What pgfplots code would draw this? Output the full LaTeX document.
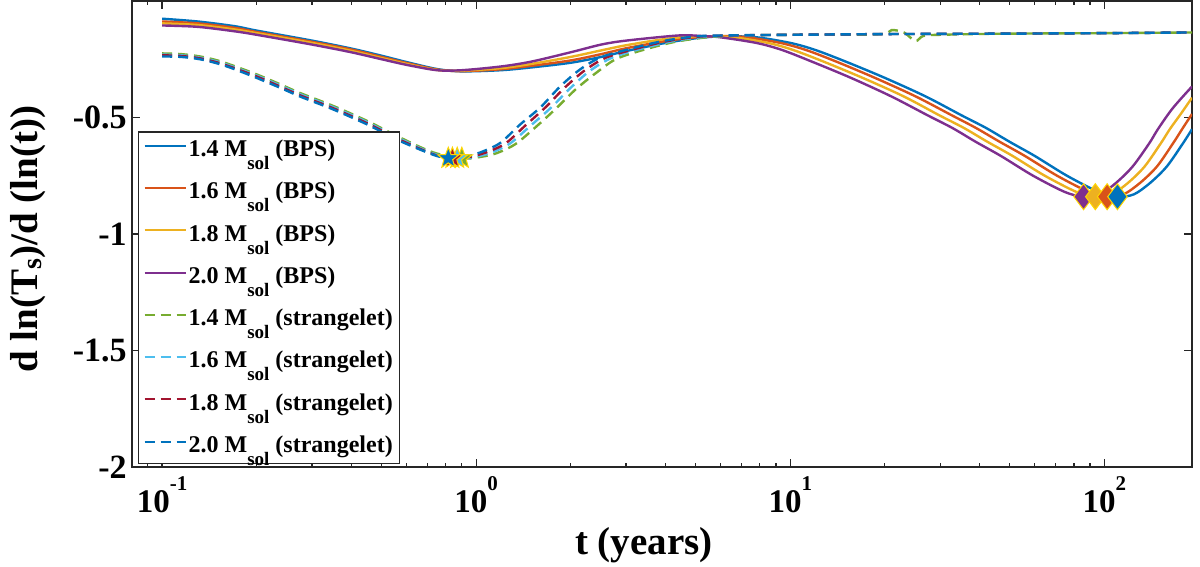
\documentclass[border=0pt]{standalone}
\usepackage{fontspec}
\setmainfont{Liberation Serif}
\usepackage{pgfplots}
\pgfplotsset{compat=1.18}

\definecolor{c1}{rgb}{0,0.447,0.741}
\definecolor{c2}{rgb}{0.850,0.325,0.098}
\definecolor{c3}{rgb}{0.929,0.694,0.125}
\definecolor{c4}{rgb}{0.494,0.184,0.556}
\definecolor{c5}{rgb}{0.466,0.674,0.188}
\definecolor{c6}{rgb}{0.301,0.745,0.933}
\definecolor{c7}{rgb}{0.635,0.078,0.184}
\definecolor{c8}{rgb}{0,0.447,0.741}
\definecolor{edgeyel}{rgb}{1,0.84,0}
\definecolor{frame}{rgb}{0.15,0.15,0.15}

% filled five-pointed star
\pgfdeclareplotmark{fstar}{%
  \pgfpathmoveto{\pgfpointpolar{90}{\pgfplotmarksize}}%
  \pgfpathlineto{\pgfpointpolar{126}{0.42\pgfplotmarksize}}%
  \pgfpathlineto{\pgfpointpolar{162}{\pgfplotmarksize}}%
  \pgfpathlineto{\pgfpointpolar{198}{0.42\pgfplotmarksize}}%
  \pgfpathlineto{\pgfpointpolar{234}{\pgfplotmarksize}}%
  \pgfpathlineto{\pgfpointpolar{270}{0.42\pgfplotmarksize}}%
  \pgfpathlineto{\pgfpointpolar{306}{\pgfplotmarksize}}%
  \pgfpathlineto{\pgfpointpolar{342}{0.42\pgfplotmarksize}}%
  \pgfpathlineto{\pgfpointpolar{18}{\pgfplotmarksize}}%
  \pgfpathlineto{\pgfpointpolar{54}{0.42\pgfplotmarksize}}%
  \pgfpathclose
  \pgfusepathqfillstroke
}

\newcommand{\msol}{M\raisebox{-6.5pt}{\fontsize{9.5}{10}\selectfont sol}}
\newcommand{\dec}[1]{10\raisebox{11pt}{\fontsize{10.5}{11}\selectfont #1}}

\begin{document}
\begin{tikzpicture}
\useasboundingbox (-66pt,-50pt) rectangle (534pt,233.5pt);
\begin{axis}[
  at={(0,0)}, anchor=south west,
  scale only axis, width=530pt, height=233pt,
  xmode=log, xmin=0.0802, xmax=190,
  ymin=-2, ymax=0,
  xtick={0.1,1,10,100},
  xticklabels={\dec{-1},\dec{0},\dec{1},\dec{2}},
  minor xtick={0.09,0.2,0.3,0.4,0.5,0.6,0.7,0.8,0.9,2,3,4,5,6,7,8,9,20,30,40,50,60,70,80,90},
  ytick={-2,-1.5,-1,-0.5},
  yticklabels={-2,-1.5,-1,-0.5},
  tick align=inside,
  major tick length=4pt, minor tick length=2pt,
  axis line style={frame, line width=0.8pt},
  every tick/.style={frame, line width=0.6pt},
  xticklabel style={font=\fontsize{16.5}{18}\selectfont\bfseries, anchor=base, yshift=-23pt},
  yticklabel style={font=\fontsize{17}{18}\selectfont\bfseries, anchor=east, inner xsep=0pt, xshift=-2.5pt},
  xlabel={t (years)},
  xlabel style={at={(axis description cs:0.483,0)}, anchor=center, yshift=-39pt, font=\fontsize{19.5}{20}\selectfont\bfseries},
  ylabel={d ln(T\raisebox{-2pt}{\fontsize{14}{14}\selectfont s})/d (ln(t))},
  ylabel style={at={(axis description cs:-0.098,0.489)}, anchor=center, font=\fontsize{19.5}{20}\selectfont\bfseries},
  legend style={at={(axis description cs:0.0057,0.0064)}, anchor=south west,
    draw=frame, line width=0.6pt, fill=white,
    font=\fontsize{12}{14}\selectfont\bfseries,
    inner xsep=2.5pt, inner ysep=2pt, row sep=7.3pt,
    nodes={inner xsep=1pt, inner ysep=2pt}},
  legend cell align=left,
  legend image code/.code={\draw[#1, line width=1pt] (0pt,2pt) -- (20.5pt,2pt);},
  every axis plot/.append style={line width=1.2pt},
]
% BPS
\addplot[c1, smooth] coordinates {
  (0.1,-0.076) (0.13,-0.088) (0.17,-0.108) (0.2,-0.127) (0.3,-0.17) (0.4,-0.204)
  (0.5,-0.235) (0.6,-0.262) (0.75,-0.292) (0.9,-0.302) (1.2,-0.297) (1.5,-0.285)
  (2,-0.265) (2.5,-0.24) (3,-0.215) (4,-0.18) (5,-0.16) (6,-0.152) (7.7,-0.155)
  (10,-0.18) (12,-0.21) (15,-0.26) (20,-0.33) (27,-0.41) (35,-0.49) (42,-0.545)
  (50,-0.605) (60,-0.665) (76,-0.75) (96,-0.82) (110,-0.84) (124,-0.83) (140,-0.78)
  (158,-0.71) (178,-0.61) (190,-0.55)
};
\addlegendentry{1.4 \msol{} (BPS)}
\addplot[c2, smooth] coordinates {
  (0.1,-0.088) (0.13,-0.096) (0.17,-0.115) (0.2,-0.133) (0.3,-0.175) (0.4,-0.208)
  (0.5,-0.24) (0.6,-0.266) (0.75,-0.294) (0.9,-0.301) (1.2,-0.293) (1.5,-0.278)
  (2,-0.255) (2.5,-0.228) (3,-0.203) (4,-0.172) (5,-0.156) (6,-0.151) (7.2,-0.155)
  (9.3,-0.18) (11.2,-0.21) (14,-0.26) (18.6,-0.33) (25.1,-0.41) (32.6,-0.49)
  (39,-0.545) (46.5,-0.605) (55.8,-0.665) (70.7,-0.75) (89.3,-0.82) (102,-0.84)
  (115,-0.83) (130,-0.78) (147,-0.71) (165.5,-0.61) (176.7,-0.55) (190,-0.485)
};
\addlegendentry{1.6 \msol{} (BPS)}
\addplot[c3, smooth] coordinates {
  (0.1,-0.096) (0.13,-0.103) (0.17,-0.122) (0.2,-0.138) (0.3,-0.18) (0.4,-0.214)
  (0.5,-0.245) (0.6,-0.27) (0.75,-0.296) (0.9,-0.299) (1.2,-0.288) (1.5,-0.27)
  (2,-0.24) (2.5,-0.212) (3,-0.19) (4,-0.163) (5,-0.152) (6.5,-0.155) (8.5,-0.18)
  (10.2,-0.21) (12.75,-0.26) (17,-0.33) (23,-0.41) (29.75,-0.49) (35.7,-0.545)
  (42.5,-0.605) (51,-0.665) (64.6,-0.75) (81.6,-0.82) (93.5,-0.84) (105.4,-0.83)
  (119,-0.78) (134.3,-0.71) (151.3,-0.61) (161.5,-0.55) (176,-0.48) (190,-0.415)
};
\addlegendentry{1.8 \msol{} (BPS)}
\addplot[c4, smooth] coordinates {
  (0.1,-0.105) (0.13,-0.111) (0.17,-0.13) (0.2,-0.145) (0.3,-0.187) (0.4,-0.22)
  (0.5,-0.25) (0.6,-0.274) (0.75,-0.297) (0.9,-0.297) (1.2,-0.281) (1.5,-0.26)
  (2,-0.22) (2.5,-0.187) (3,-0.17) (4.4,-0.148) (5.2,-0.15) (6,-0.156) (7.8,-0.18)
  (9.4,-0.21) (11.7,-0.26) (15.6,-0.33) (21,-0.41) (27.3,-0.49) (32.8,-0.545)
  (39,-0.605) (46.8,-0.665) (59.3,-0.75) (74.9,-0.82) (85.8,-0.84) (96.7,-0.83)
  (109,-0.78) (123,-0.71) (139,-0.61) (148,-0.55) (165,-0.46) (190,-0.367)
};
\addlegendentry{2.0 \msol{} (BPS)}
% strangelet
\addplot[c5, smooth, dash pattern=on 5pt off 3pt] coordinates {
  (0.1,-0.225) (0.115,-0.228) (0.132,-0.238) (0.15,-0.255) (0.168,-0.277) (0.2,-0.315)
  (0.24,-0.36) (0.275,-0.395) (0.35,-0.45) (0.45,-0.515) (0.57,-0.585) (0.73,-0.65)
  (0.9,-0.675) (1.0,-0.672) (1.15,-0.655) (1.33,-0.615) (1.55,-0.54) (1.8,-0.46)
  (2.07,-0.38) (2.4,-0.31) (2.78,-0.25) (3.36,-0.212) (4.3,-0.175) (5.5,-0.155)
  (7,-0.148) (10,-0.145) (19,-0.143) (21,-0.125) (23,-0.135) (25,-0.172) (26.5,-0.15)
  (30,-0.145) (50,-0.14) (100,-0.138) (190,-0.135)
};
\addlegendentry{1.4 \msol{} (strangelet)}
\addplot[c6, smooth, dash pattern=on 5pt off 3pt] coordinates {
  (0.1,-0.23) (0.115,-0.233) (0.132,-0.243) (0.15,-0.26) (0.168,-0.282) (0.2,-0.32)
  (0.24,-0.365) (0.275,-0.40) (0.35,-0.455) (0.45,-0.52) (0.57,-0.59) (0.73,-0.655)
  (0.87,-0.675) (0.97,-0.671) (1.11,-0.652) (1.28,-0.612) (1.49,-0.535) (1.73,-0.458)
  (2.0,-0.372) (2.3,-0.3) (2.68,-0.246) (3.24,-0.21) (4.17,-0.174) (5.3,-0.154)
  (7,-0.148) (10,-0.145) (20,-0.142) (50,-0.14) (100,-0.138) (190,-0.135)
};
\addlegendentry{1.6 \msol{} (strangelet)}
\addplot[c7, smooth, dash pattern=on 5pt off 3pt] coordinates {
  (0.1,-0.233) (0.115,-0.236) (0.132,-0.246) (0.15,-0.264) (0.168,-0.286) (0.2,-0.324)
  (0.24,-0.37) (0.275,-0.405) (0.35,-0.46) (0.45,-0.525) (0.57,-0.595) (0.73,-0.658)
  (0.84,-0.675) (0.93,-0.672) (1.07,-0.651) (1.24,-0.611) (1.44,-0.532) (1.66,-0.457)
  (1.92,-0.37) (2.22,-0.297) (2.58,-0.244) (3.12,-0.21) (4.0,-0.174) (5.1,-0.153)
  (6.5,-0.148) (10,-0.145) (20,-0.142) (50,-0.14) (100,-0.138) (190,-0.135)
};
\addlegendentry{1.8 \msol{} (strangelet)}
\addplot[c8, smooth, dash pattern=on 5pt off 3pt] coordinates {
  (0.1,-0.238) (0.115,-0.24) (0.132,-0.25) (0.15,-0.268) (0.168,-0.29) (0.2,-0.33)
  (0.24,-0.375) (0.275,-0.41) (0.35,-0.465) (0.45,-0.53) (0.57,-0.60) (0.73,-0.66)
  (0.815,-0.675) (0.9,-0.673) (1.03,-0.65) (1.19,-0.61) (1.38,-0.53) (1.6,-0.457)
  (1.85,-0.367) (2.14,-0.294) (2.48,-0.243) (3.0,-0.21) (3.86,-0.174) (4.9,-0.153)
  (6,-0.148) (10,-0.145) (20,-0.142) (50,-0.14) (100,-0.138) (190,-0.135)
};
\addlegendentry{2.0 \msol{} (strangelet)}
% minimum markers
\addplot[forget plot, only marks, mark=diamond*, mark size=6.5pt, mark options={draw=edgeyel, fill=c4, line width=0.5pt}] coordinates {(85.8,-0.84)};
\addplot[forget plot, only marks, mark=diamond*, mark size=6.5pt, mark options={draw=edgeyel, fill=c3, line width=0.5pt}] coordinates {(93.5,-0.84)};
\addplot[forget plot, only marks, mark=diamond*, mark size=6.5pt, mark options={draw=edgeyel, fill=c2, line width=0.5pt}] coordinates {(102,-0.84)};
\addplot[forget plot, only marks, mark=diamond*, mark size=6.5pt, mark options={draw=edgeyel, fill=c1, line width=0.5pt}] coordinates {(110,-0.84)};
\addplot[forget plot, only marks, mark=fstar, mark size=5.5pt, mark options={draw=edgeyel, fill=c5, line width=0.5pt}] coordinates {(0.9,-0.675)};
\addplot[forget plot, only marks, mark=fstar, mark size=5.5pt, mark options={draw=edgeyel, fill=c6, line width=0.5pt}] coordinates {(0.87,-0.675)};
\addplot[forget plot, only marks, mark=fstar, mark size=5.5pt, mark options={draw=edgeyel, fill=c7, line width=0.5pt}] coordinates {(0.84,-0.675)};
\addplot[forget plot, only marks, mark=fstar, mark size=5.5pt, mark options={draw=edgeyel, fill=c8, line width=0.5pt}] coordinates {(0.815,-0.675)};
\end{axis}
\end{tikzpicture}
\end{document}
